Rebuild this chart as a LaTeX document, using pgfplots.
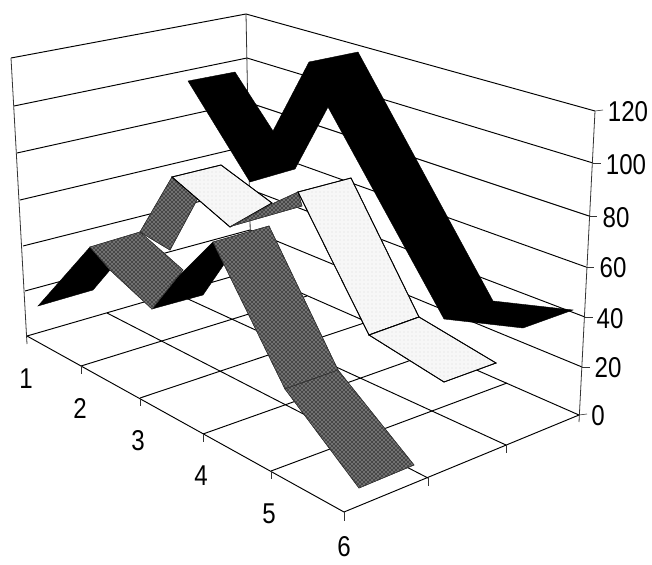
\documentclass[border=0pt]{standalone}
\usepackage{fontspec}
\setmainfont[FakeStretch=0.84]{Liberation Sans}
\usepackage{pgfplots}
\pgfplotsset{compat=1.18}
\usetikzlibrary{patterns}
\tikzset{
  gl/.style={black,line width=0.72pt},
  tk/.style={black!80,line width=0.45pt},
  lab/.style={font=\fontsize{21.5}{23}\selectfont,anchor=center,inner sep=0pt},
  blk/.style={fill=black,draw=black,line width=0.3pt},
  drk/.style={fill=black!72,draw=black!80,line width=0.4pt,postaction={pattern=crosshatch dots,pattern color=white}},
  lgt/.style={fill=black!3,draw=black,line width=0.6pt,postaction={pattern=dots,pattern color=black!14}}
}
\begin{document}
\begin{tikzpicture}
\begin{axis}[
  scale only axis,width=489pt,height=423pt,
  xmin=0,xmax=652,ymin=0,ymax=564,y dir=reverse,
  hide axis,clip=false,no markers,
  every axis plot/.append style={sharp plot}
]
\path (axis cs:0,0) rectangle (axis cs:652,564);
% left wall gridlines
\addplot[gl] coordinates {(11,58)(246,14)};
\addplot[gl] coordinates {(14,106)(247,58)};
\addplot[gl] coordinates {(17,153)(247,102)};
\addplot[gl] coordinates {(20,200)(248,146)};
\addplot[gl] coordinates {(23,246)(249,189)};
\addplot[gl] coordinates {(25,291)(250,230)};
\addplot[gl] coordinates {(27,336)(251,271)};
% right wall gridlines
\addplot[gl] coordinates {(246,14)(595,111)};
\addplot[gl] coordinates {(247,58)(593,163)};
\addplot[gl] coordinates {(247,102)(589,216)};
\addplot[gl] coordinates {(248,146)(586,267)};
\addplot[gl] coordinates {(249,189)(585,317)};
\addplot[gl] coordinates {(250,230)(582,367)};
\addplot[gl] coordinates {(251,271)(579,415)};
% wall edges
\addplot[tk,line width=0.6pt] coordinates {(11,58)(27,344)};
\addplot[tk,line width=0.6pt] coordinates {(246,14)(251,271)};
\addplot[tk,line width=0.6pt] coordinates {(595,111)(579,422)};
% floor edges
\addplot[gl] coordinates {(27,336)(344,512)};
\addplot[gl] coordinates {(579,415)(344,512)};
% floor grid, left edge to back right edge
\addplot[gl] coordinates {(81,366)(307,296)};
\addplot[gl] coordinates {(140,398)(367,322)};
\addplot[gl] coordinates {(203,434)(434,352)};
\addplot[gl] coordinates {(271,471)(507,383)};
% floor grid, back left edge to front right edge
\addplot[gl] coordinates {(107,313)(428,478)};
\addplot[gl] coordinates {(175,293)(506,445)};
% ticks
\addplot[tk] coordinates {(81,366)(81,374)};
\addplot[tk] coordinates {(140,398)(140,406)};
\addplot[tk] coordinates {(203,434)(203,442)};
\addplot[tk] coordinates {(271,471)(271,479)};
\addplot[tk] coordinates {(344,512)(344,521)};
\addplot[tk] coordinates {(428,478)(428,486)};
\addplot[tk] coordinates {(506,445)(506,453)};
\addplot[tk] coordinates {(595,111)(603,110)};
\addplot[tk] coordinates {(593,163)(601,163)};
\addplot[tk] coordinates {(589,216)(597,216)};
\addplot[tk] coordinates {(586,267)(594,267)};
\addplot[tk] coordinates {(585,317)(593,317)};
\addplot[tk] coordinates {(582,367)(590,367)};
\addplot[tk] coordinates {(579,415)(587,414)};
% back series
\addplot[blk] coordinates {(188,81)(235,72)(273,131)(309,62)(358,52)(493,301)(573,310)(523,328)(444,319)(328,107)(295,169)(250,182)} -- cycle;
% middle series
\addplot[drk] coordinates {(172,177)(198,198)(170,250)(140,232)} -- cycle;
\addplot[lgt] coordinates {(172,177)(221,165)(272,203)(230,227)} -- cycle;
\addplot[drk] coordinates {(232,226)(272,204)(298,192)(302,206)} -- cycle;
\addplot[lgt] coordinates {(298,192)(351,178)(419,317)(369,335)} -- cycle;
\addplot[lgt] coordinates {(369,335)(419,317)(496,363)(444,382)} -- cycle;
% front series
\addplot[blk] coordinates {(38,306)(90,247)(110,270)(93,290)} -- cycle;
\addplot[blk] coordinates {(152,309)(178,277)(213,242)(227,260)(203,295)} -- cycle;
\addplot[drk] coordinates {(90,247)(140,232)(183,270)(152,309)(110,270)} -- cycle;
\addplot[drk] coordinates {(213,242)(269,226)(338,370)(285,389)} -- cycle;
\addplot[drk] coordinates {(285,389)(338,370)(414,465)(359,488)} -- cycle;
% labels
\node[lab] at (axis cs:628,112) {120};
\node[lab] at (axis cs:626,165) {100};
\node[lab] at (axis cs:616,218) {80};
\node[lab] at (axis cs:613,268) {60};
\node[lab] at (axis cs:610,319) {40};
\node[lab] at (axis cs:608,368) {20};
\node[lab] at (axis cs:598,416) {0};
\node[lab] at (axis cs:26,379) {1};
\node[lab] at (axis cs:80,408) {2};
\node[lab] at (axis cs:138,441) {3};
\node[lab] at (axis cs:201,476) {4};
\node[lab] at (axis cs:269,514) {5};
\node[lab] at (axis cs:344,547) {6};
\end{axis}
\end{tikzpicture}
\end{document}
